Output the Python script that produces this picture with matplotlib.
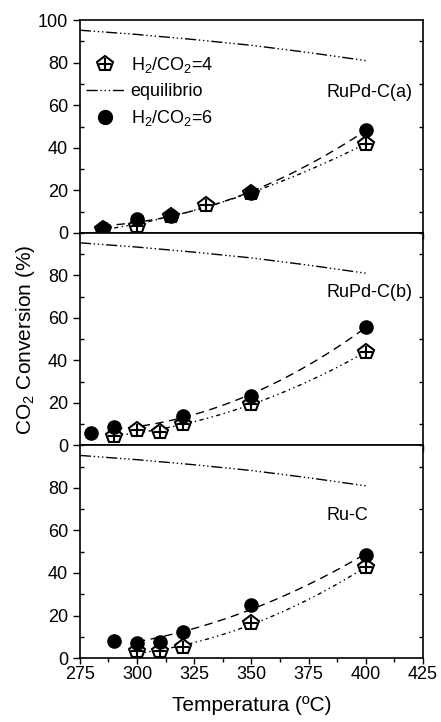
import matplotlib
matplotlib.use("Agg")
import matplotlib.pyplot as plt
from matplotlib.lines import Line2D
import numpy as np

plt.rcParams['font.family'] = ['Liberation Sans', 'DejaVu Sans']
plt.rcParams['mathtext.fontset'] = 'custom'
plt.rcParams['mathtext.rm'] = 'Liberation Sans'
plt.rcParams['mathtext.it'] = 'Liberation Sans'

# equilibrium conversion (same in all panels)
eq_t = [275, 300, 325, 350, 375, 400]
eq_x = [95.3, 93.3, 90.9, 88.2, 84.8, 81.0]

# RuPd-C(a)
a_t4 = [285, 300, 315, 330, 350, 400]
a_x4 = [2.0, 3.0, 8.0, 13.0, 18.5, 42.0]
a_t6 = [285, 300, 315, 350, 400]
a_x6 = [2.4, 6.3, 8.0, 18.8, 48.3]

# RuPd-C(b)
b_t4 = [290, 300, 310, 320, 350, 400]
b_x4 = [4.2, 7.4, 6.3, 9.9, 19.6, 43.9]
b_t6 = [280, 290, 320, 350, 400]
b_x6 = [6.0, 8.9, 13.8, 23.2, 55.7]

# Ru-C
c_t4 = [300, 310, 320, 350, 400]
c_x4 = [3.1, 3.1, 5.2, 16.5, 42.7]
c_t6 = [290, 300, 310, 320, 350, 400]
c_x6 = [7.8, 7.0, 7.5, 12.1, 24.8, 48.6]

panels = [
    ("RuPd-C(a)", a_t4, a_x4, a_t6, a_x6, (290, 400), (285, 400)),
    ("RuPd-C(b)", b_t4, b_x4, b_t6, b_x6, (290, 400), (290, 400)),
    ("Ru-C", c_t4, c_x4, c_t6, c_x6, (300, 400), (300, 400)),
]
label_y = [0.66, 0.72, 0.67]

ddot = (0, (8, 2, 1, 2, 1, 2, 1, 2))

fig, axes = plt.subplots(3, 1, figsize=(4.41, 7.22), dpi=100, sharex=True)
fig.subplots_adjust(left=0.181, right=0.959, top=0.972, bottom=0.0886, hspace=0)

for i, (ax, (name, t4, x4, t6, x6, r4, r6)) in enumerate(zip(axes, panels)):
    # trend lines fitted to the data
    p4 = np.polyfit(t4, x4, 2)
    tt4 = np.linspace(r4[0], r4[1], 60)
    ax.plot(tt4, np.polyval(p4, tt4), color='black', lw=1, linestyle=(0, (3, 2.5, 1, 2.5, 1, 2.5)))
    p6 = np.polyfit(t6, x6, 2)
    tt6 = np.linspace(r6[0], r6[1], 60)
    ax.plot(tt6, np.polyval(p6, tt6), color='black', lw=1, linestyle=(0, (6, 4)))

    ax.plot(eq_t, eq_x, color='black', lw=1, linestyle=ddot)

    ax.plot(t4, x4, 'p', ms=11.5, mfc='white', mec='black', mew=1.5, zorder=3)
    ax.plot(t4, x4, '+', ms=8, mec='black', mew=1.5, zorder=3)
    ax.plot(t6, x6, 'o', ms=9.5, color='black', zorder=4)

    ax.text(0.72, label_y[i], name, transform=ax.transAxes, fontsize=13, ha='left', va='center')

    ax.set_xlim(275, 425)
    ax.set_ylim(0, 100)
    if i == 0:
        ax.set_yticks(np.arange(0, 101, 20))
    else:
        ax.set_yticks(np.arange(0, 81, 20))
    ax.set_yticks(np.arange(0, 101, 10), minor=True)
    ax.set_xticks(np.arange(275, 426, 25))
    ax.set_xticks(np.arange(275, 426, 12.5), minor=True)
    ax.tick_params(axis='both', which='major', direction='out', length=5, width=1,
                   labelsize=13, right=False, top=False)
    ax.tick_params(axis='x', which='major', length=4, pad=2)
    ax.tick_params(axis='both', which='minor', direction='out', length=3, width=1,
                   right=False, top=False)
    ax.tick_params(axis='y', which='minor', right=True, direction='in')
    for s in ax.spines.values():
        s.set_linewidth(1.2)

# legend in top panel
h4 = (Line2D([], [], marker='p', ms=11.5, mfc='white', mec='black', mew=1.5, ls='none'),
      Line2D([], [], marker='+', ms=8, mec='black', mew=1.5, ls='none'))
heq = Line2D([], [], color='black', lw=1, linestyle=ddot)
h6 = Line2D([], [], marker='o', ms=10, color='black', ls='none')
axes[0].legend([h4, heq, h6], ['H$_2$/CO$_2$=4', 'equilibrio', 'H$_2$/CO$_2$=6'],
               loc='upper left', bbox_to_anchor=(-0.02, 0.895), frameon=False, fontsize=13,
               handlelength=2.2, handletextpad=0.3, labelspacing=0.45, borderaxespad=0.3)

axes[2].set_xlabel('Temperatura (ºC)', fontsize=15, labelpad=9)
fig.text(0.058, 0.53, 'CO$_2$ Conversion (%)', rotation=90, fontsize=15, ha='center', va='center')

plt.savefig('out.png', dpi=100)
